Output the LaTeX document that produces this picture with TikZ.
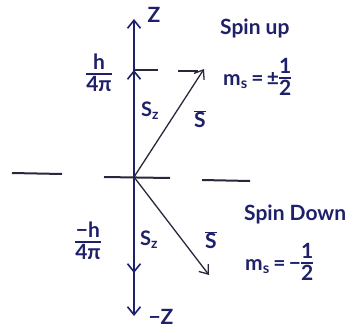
\documentclass[tikz,border=0pt]{standalone}
\usepackage{fontspec}
\setmainfont{Lato}
\usetikzlibrary{arrows.meta}
\definecolor{ink}{RGB}{30,32,105}
\definecolor{pen}{RGB}{40,40,60}
\setlength{\arrayrulewidth}{1.5pt}
\newcommand{\myfrac}[2]{\begin{tabular}{@{}c@{}}#1\\[-3pt]\hline\rule{0pt}{17pt}#2\end{tabular}}
\begin{document}
\begin{tikzpicture}[x=1pt,y=-1pt,
  lbl/.style={text=ink,font=\fontsize{21}{23}\selectfont\bfseries,inner sep=0pt},
  slbl/.style={text=ink,font=\fontsize{20}{22}\selectfont\bfseries,inner sep=0pt},
  axisline/.style={draw=ink,line width=2.2pt},
  opentip/.style={-{Straight Barb[length=8pt,width=13pt,line width=1.6pt]}},
  vec/.style={draw=pen,line width=1.3pt,-{Straight Barb[length=8pt,width=12pt,line width=1.3pt]}},
  tick/.style={draw=pen,line width=1.6pt}
]
\useasboundingbox (0,0) rectangle (355,331);
% coordinates
\coordinate (O) at (134,177);
\coordinate (ztop) at (134,19);
\coordinate (zbot) at (134,316);
\coordinate (szup) at (134,70);
\coordinate (szdn) at (134,273);
\coordinate (Sup) at (204,69);
\coordinate (Sdn) at (209,275);
% axis
\draw[axisline,opentip] (O) -- (ztop);
\draw[axisline,opentip] (O) -- (szup);
\draw[axisline,opentip] (O) -- (zbot);
\draw[axisline,opentip] (O) -- (szdn);
% tick line at h/4pi
\coordinate (t1) at (158,70);
\coordinate (t2) at (178,71);
\coordinate (t3) at (198,71);
\draw[tick] (szup) -- (t1);
\draw[tick] (t2) -- (t3);
% horizontal dashed line
\coordinate (h1) at (12,173);
\coordinate (h2) at (62,174);
\coordinate (h3) at (104,177);
\coordinate (h4) at (170,178);
\coordinate (h5) at (202,180);
\coordinate (h6) at (250,181);
\draw[tick,line width=2pt] (h1) -- (h2);
\draw[tick,line width=2pt] (h3) -- (h4);
\draw[tick,line width=2pt] (h5) -- (h6);
% vectors
\draw[vec] (O) -- (Sup);
\draw[vec] (O) -- (Sdn);
% labels
\node[lbl] (zl) at (154,15) {Z};
\node[lbl] (mzl) at (161,317) {−Z};
\node[lbl] (hup) at (99,76) {\myfrac{h}{4π}};
\node[lbl] (hdn) at (88,244) {\myfrac{−h}{4π}};
\node[slbl] (szul) at (150,111) {S\textsubscript{z}};
\node[slbl] (szdl) at (149,240) {S\textsubscript{z}};
\node[lbl] (Sul) at (200,119) {$\overline{\mbox{S}}$};
\node[lbl] (Sdl) at (211,240) {$\overline{\mbox{S}}$};
\node[lbl,anchor=west] (spinup) at (220,28) {Spin up};
\node[lbl,anchor=west] (msup) at (223,80) {m\textsubscript{s}\,=\,±\myfrac{1}{2}};
\node[lbl,anchor=west] (spindn) at (244,214) {Spin Down};
\node[lbl,anchor=west] (msdn) at (245,265) {m\textsubscript{s}\,=\,−\myfrac{1}{2}};
\end{tikzpicture}
\end{document}
